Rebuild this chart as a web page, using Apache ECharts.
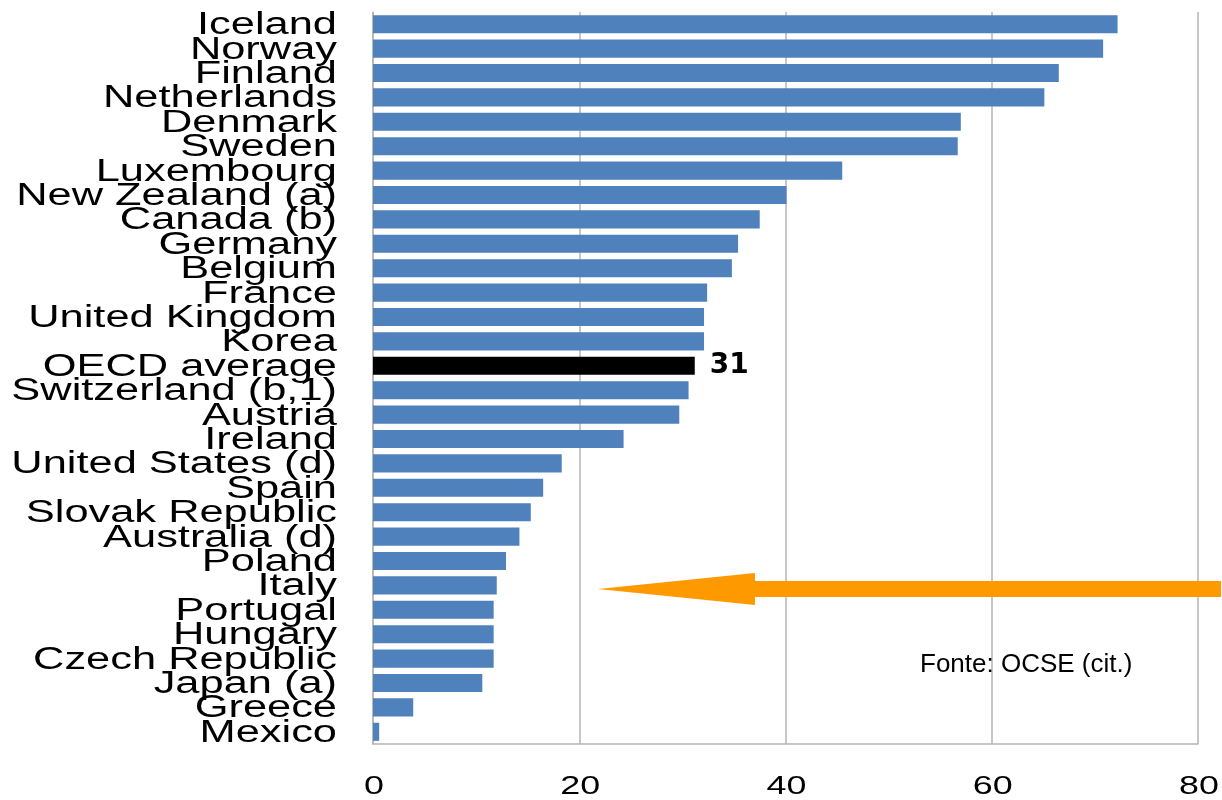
<!DOCTYPE html>
<html>
<head>
<meta charset="utf-8">
<script src="https://cdn.jsdelivr.net/npm/echarts@6/dist/echarts.min.js"></script>
<style>
  html, body { margin: 0; padding: 0; background: #ffffff; }
  #chart { width: 1222px; height: 800px; }
</style>
</head>
<body>
<div id="chart"></div>
<script>
// ---- data ----
const categories = [
  "Iceland", "Norway", "Finland", "Netherlands", "Denmark", "Sweden",
  "Luxembourg", "New Zealand (a)", "Canada (b)", "Germany", "Belgium",
  "France", "United Kingdom", "Korea", "OECD average", "Switzerland (b,1)",
  "Austria", "Ireland", "United States (d)", "Spain", "Slovak Republic",
  "Australia (d)", "Poland", "Italy", "Portugal", "Hungary",
  "Czech Republic", "Japan (a)", "Greece", "Mexico"
];
const values = [
  72.2, 70.8, 66.5, 65.1, 57.0, 56.7,
  45.5, 40.1, 37.5, 35.4, 34.8,
  32.4, 32.1, 32.1, 31.2, 30.6,
  29.7, 24.3, 18.3, 16.5, 15.3,
  14.2, 12.9, 12.0, 11.7, 11.7,
  11.7, 10.6, 3.9, 0.6
];
const highlightCategory = "OECD average";
const xTicks = [0, 20, 40, 60, 80];
const sourceNote = "Fonte: OCSE (cit.)";

// ---- chart ----
const BAR_COLOR = '#4f81bd';
const GRID_COLOR = '#b4b4b4';
const chart = echarts.init(document.getElementById('chart'), null, { renderer: 'canvas' });

const seriesData = values.map((v, i) => {
  if (categories[i] === highlightCategory) {
    return {
      value: v,
      itemStyle: { color: '#000000' },
      label: {
        show: true,
        position: 'right',
        distance: 15,
        formatter: p => String(Math.round(p.value)),
        fontFamily: 'DejaVu Sans',
        fontWeight: 'bold',
        fontSize: 28,
        color: '#000000'
      }
    };
  }
  return v;
});

chart.setOption({
  animation: false,
  backgroundColor: '#ffffff',
  grid: { left: 373, right: 24, top: 12, bottom: 56, containLabel: false, outerBoundsMode: 'none' },
  xAxis: {
    type: 'value',
    min: 0, max: 80, interval: 20,
    axisLine: { show: true, lineStyle: { color: GRID_COLOR, width: 1.5 } },
    axisTick: { show: false },
    axisLabel: { show: false },
    splitLine: { show: true, lineStyle: { color: GRID_COLOR, width: 1.5 } }
  },
  yAxis: {
    type: 'category',
    data: categories,
    inverse: true,
    axisLine: { show: true, lineStyle: { color: GRID_COLOR, width: 1.5 } },
    axisTick: { show: false },
    axisLabel: { show: false },
    splitLine: { show: false }
  },
  series: [{
    type: 'bar',
    data: seriesData,
    barCategoryGap: '26%',
    itemStyle: { color: BAR_COLOR },
    label: { show: false }
  }]
});

// ---- stretched text labels placed through the axes ----
const elements = [];
const x0 = chart.convertToPixel({ xAxisIndex: 0 }, 0);
categories.forEach(c => {
  const y = chart.convertToPixel({ yAxisIndex: 0 }, c);
  elements.push({
    type: 'text',
    x: x0 - 36,
    y: y + 1.5,
    scaleX: 1.4,
    silent: true,
    style: {
      text: c,
      fontFamily: 'Liberation Sans',
      fontSize: 31,
      fill: '#000000',
      align: 'right', verticalAlign: 'middle',
      textAlign: 'right', textVerticalAlign: 'middle'
    }
  });
});
xTicks.forEach(v => {
  const x = chart.convertToPixel({ xAxisIndex: 0 }, v);
  elements.push({
    type: 'text',
    x: x + 1,
    y: 787,
    scaleX: 1.38,
    silent: true,
    style: {
      text: String(v),
      fontFamily: 'Liberation Sans',
      fontSize: 26,
      fill: '#000000',
      align: 'center', verticalAlign: 'middle',
      textAlign: 'center', textVerticalAlign: 'middle'
    }
  });
});
// source note
elements.push({
  type: 'text',
  x: 920, y: 665,
  silent: true,
  style: {
    text: sourceNote,
    fontFamily: 'Liberation Sans',
    fontSize: 26,
    fill: '#000000',
    align: 'left', verticalAlign: 'middle',
    textAlign: 'left', textVerticalAlign: 'middle'
  }
});
// orange arrow annotation
elements.push({
  type: 'polygon',
  silent: true,
  z: 100,
  shape: {
    points: [[598, 589], [755, 573], [755, 581], [1221, 581], [1221, 597], [755, 597], [755, 605]]
  },
  style: { fill: '#ff9900' }
});

chart.setOption({ graphic: { elements: elements } });
</script>
</body>
</html>
